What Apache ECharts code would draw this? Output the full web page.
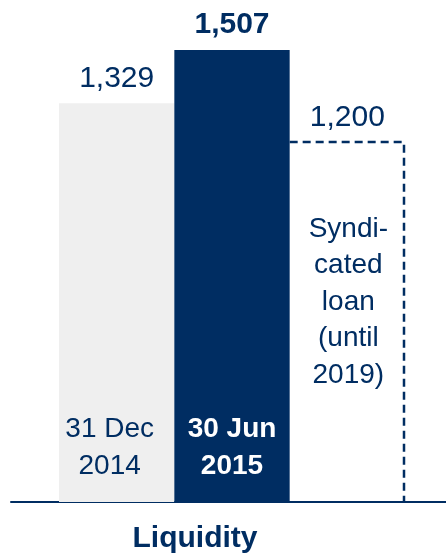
<!DOCTYPE html>
<html>
<head>
<meta charset="utf-8">
<script src="https://cdn.jsdelivr.net/npm/echarts@6/dist/echarts.min.js"></script>
<style>
  html, body { margin: 0; padding: 0; background: #fff; }
  #main { width: 446px; height: 558px; }
</style>
</head>
<body>
<div id="main"></div>
<script>
// data
var categories = ['31 Dec\n2014', '30 Jun\n2015', 'Syndicated loan'];
var liquidity = [1329, 1507];
var loanValue = [1200];
var loanText = 'Syndi-\ncated\nloan\n(until\n2019)';
var topLabels = ['1,329', '1,507', '1,200'];

var navy = '#002d62';
var grey = '#efefef';
var font = '"Liberation Sans", Arial, sans-serif';

var myChart = echarts.init(document.getElementById('main'));

var option = {
    animation: false,
    title: {
        text: 'Liquidity',
        left: 190,
        top: 519,
        textAlign: 'center',
        textStyle: { color: navy, fontSize: 30, fontWeight: 'bold', fontFamily: font }
    },
    grid: [
        { left: 59, right: 41, top: 22, bottom: 56 },
        { left: 11, right: 0, top: 22, bottom: 56 }
    ],
    xAxis: [
        {
            type: 'category', gridIndex: 0, data: categories,
            axisLine: { show: false }, axisTick: { show: false }, axisLabel: { show: false }
        },
        {
            type: 'value', gridIndex: 1, min: 0, max: 1,
            axisLine: { show: true, onZero: false, lineStyle: { color: navy, width: 2 } },
            axisTick: { show: false }, axisLabel: { show: false }, splitLine: { show: false }
        }
    ],
    yAxis: [
        { type: 'value', gridIndex: 0, min: 0, max: 1600, show: false, splitLine: { show: false } },
        { type: 'value', gridIndex: 1, min: 0, max: 1, show: false, splitLine: { show: false } }
    ],
    series: [
        {
            type: 'bar',
            barCategoryGap: '0%',
            barWidth: '100%',
            z: 2,
            data: [
                {
                    value: liquidity[0],
                    itemStyle: { color: grey },
                    label: {
                        show: true, position: 'top', distance: 10,
                        formatter: topLabels[0],
                        color: navy, fontSize: 30, lineHeight: 30, fontFamily: font
                    }
                },
                {
                    value: liquidity[1],
                    itemStyle: { color: navy },
                    label: {
                        show: true, position: 'top', distance: 10,
                        formatter: topLabels[1],
                        color: navy, fontSize: 30, lineHeight: 30, fontWeight: 'bold', fontFamily: font
                    }
                }
            ]
        },
        {
            // inside date labels
            type: 'bar',
            barGap: '-100%',
            barWidth: '100%',
            z: 3,
            silent: true,
            itemStyle: { color: 'rgba(0,0,0,0)' },
            data: [
                {
                    value: liquidity[0],
                    label: {
                        show: true, position: 'insideBottom', distance: 17, offset: [-7, 0],
                        formatter: categories[0],
                        color: navy, fontSize: 28, lineHeight: 37, fontFamily: font
                    }
                },
                {
                    value: liquidity[1],
                    label: {
                        show: true, position: 'insideBottom', distance: 17,
                        formatter: categories[1],
                        color: '#fff', fontSize: 28, lineHeight: 37, fontWeight: 'bold', fontFamily: font
                    }
                }
            ]
        },
        {
            // syndicated loan: dashed outline (top + right only)
            type: 'custom',
            z: 1,
            data: [[2, loanValue[0]]],
            renderItem: function (params, api) {
                var topPt = api.coord([api.value(0), api.value(1)]);
                var basePt = api.coord([api.value(0), 0]);
                var w = api.size([1, 0])[0];
                var left = topPt[0] - w / 2;
                var right = topPt[0] + w / 2 - 1;
                return {
                    type: 'group',
                    children: [
                        {
                            type: 'polyline',
                            shape: { points: [[left, topPt[1]], [right, topPt[1]], [right, basePt[1]]] },
                            style: { stroke: navy, lineWidth: 2.5, lineDash: [8, 5], fill: null }
                        },
                        {
                            type: 'text',
                            x: topPt[0], y: topPt[1] - 24,
                            style: {
                                text: topLabels[2], fill: navy, fontSize: 30, fontFamily: font,
                                align: 'center', verticalAlign: 'middle'
                            }
                        },
                        {
                            type: 'text',
                            x: topPt[0] + 1, y: basePt[1] - 200,
                            style: {
                                text: loanText, fill: navy, fontSize: 28, lineHeight: 36.5, fontFamily: font,
                                align: 'center', verticalAlign: 'middle'
                            }
                        }
                    ]
                };
            }
        }
    ]
};
myChart.setOption(option);
</script>
</body>
</html>
